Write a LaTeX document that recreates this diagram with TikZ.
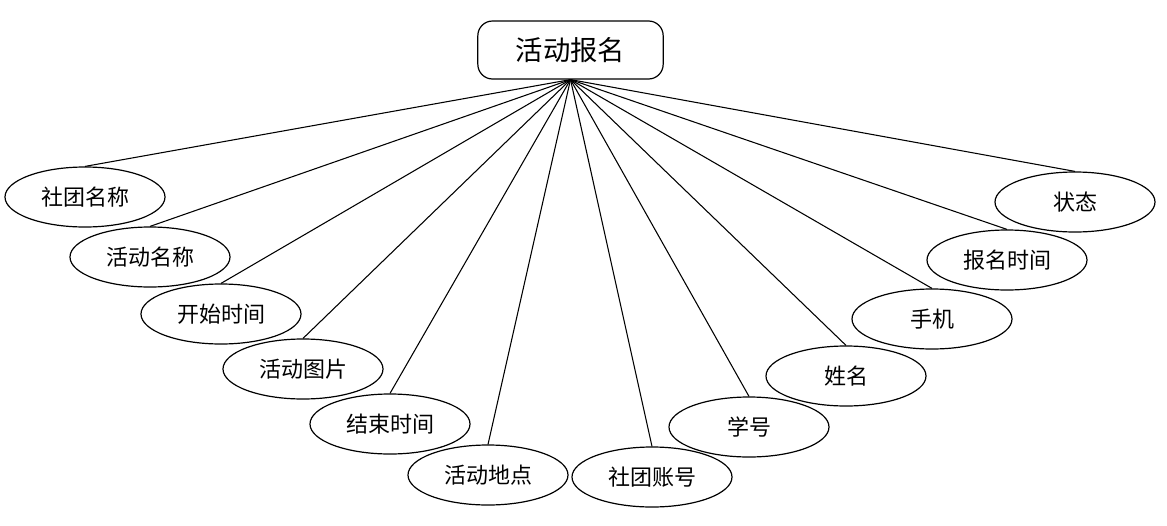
\documentclass[tikz,border=0pt]{standalone}
\usepackage{fontspec}
\setmainfont{Noto Sans CJK SC}
\usetikzlibrary{shapes.geometric}

\begin{document}
\begin{tikzpicture}[x=0.75pt,y=-0.75pt,
  attr/.style={draw=black,line width=0.9pt,ellipse,minimum width=120pt,
    minimum height=45pt,inner sep=0pt,font=\fontsize{16.5}{18}\selectfont},
  entity/.style={draw=black,line width=0.9pt,rounded corners=11pt,minimum width=139pt,
    minimum height=43.5pt,inner sep=0pt,font=\fontsize{20.5}{22}\selectfont},
  link/.style={black,line width=0.8pt}]
  \useasboundingbox (0,0) rectangle (1167,525);
  % entity
  \node [entity] (bm) at (570.5,50) {活动报名};
  % attributes, left half
  \node [attr] (stmc) at (85,197) {社团名称};
  \node [attr] (hdmc) at (150,257) {活动名称};
  \node [attr] (kssj) at (221,314) {开始时间};
  \node [attr] (hdtp) at (303,369) {活动图片};
  \node [attr] (jssj) at (390,424) {结束时间};
  \node [attr] (hddd) at (488,475) {活动地点};
  % attributes, right half
  \node [attr] (stzh) at (652,477) {社团账号};
  \node [attr] (xh) at (749,427) {学号};
  \node [attr] (xm) at (846,376) {姓名};
  \node [attr] (sj) at (932,319) {手机};
  \node [attr] (bmsj) at (1007,260) {报名时间};
  \node [attr] (zt) at (1075,202) {状态};
  % links
  \draw [link] (bm.south) -- (stmc.north);
  \draw [link] (bm.south) -- (hdmc.north);
  \draw [link] (bm.south) -- (kssj.north);
  \draw [link] (bm.south) -- (hdtp.north);
  \draw [link] (bm.south) -- (jssj.north);
  \draw [link] (bm.south) -- (hddd.north);
  \draw [link] (bm.south) -- (stzh.north);
  \draw [link] (bm.south) -- (xh.north);
  \draw [link] (bm.south) -- (xm.north);
  \draw [link] (bm.south) -- (sj.north);
  \draw [link] (bm.south) -- (bmsj.north);
  \draw [link] (bm.south) -- (zt.north);
\end{tikzpicture}
\end{document}
